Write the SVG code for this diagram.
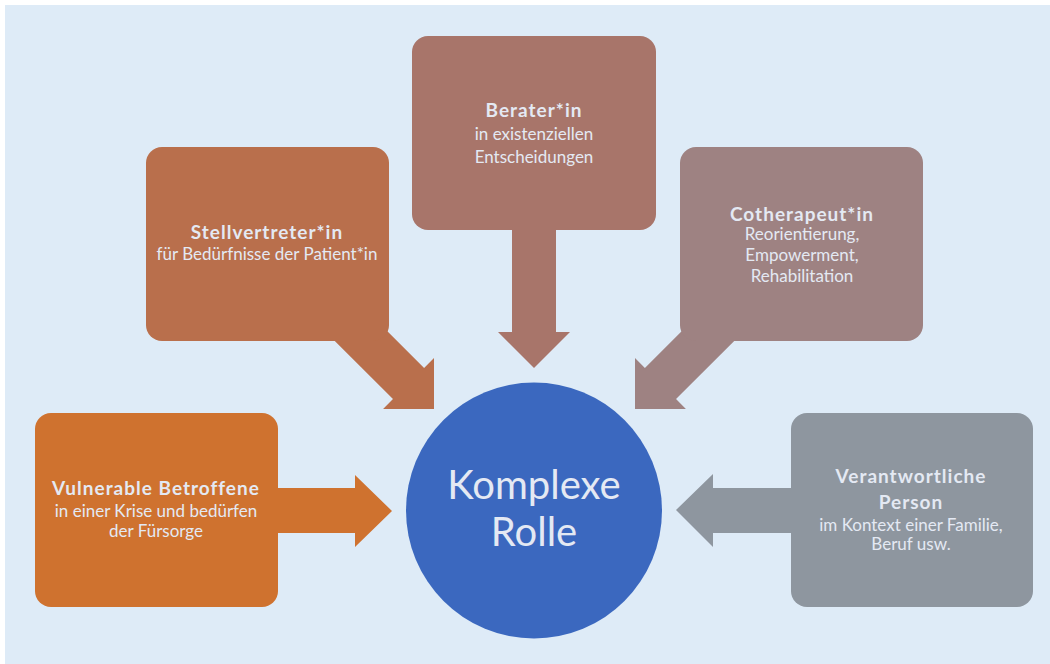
<svg xmlns="http://www.w3.org/2000/svg" width="1050" height="664" viewBox="0 0 1050 664">
<style>
.t{font-family:Lato,"Open Sans","Liberation Sans",sans-serif;fill:#E4E9F3;text-anchor:middle}
.b{font-weight:bold;font-size:19px;letter-spacing:1px}
.r{font-size:17px}
.big{font-size:40px}
</style>
<rect x="0" y="0" width="1050" height="664" fill="#FFFFFF"/>
<rect x="5" y="5" width="1045" height="659" fill="#DEEBF7"/>
<g id="connectors">
<polygon fill="#A8756A" points="512,200 556,200 556,332 570,332 534,368 498,332 512,332"/>
<polygon fill="#B96F4C" transform="translate(434,409) rotate(45)" points="-130,-22 -36,-22 -36,-36 0,0 -36,36 -36,22 -130,22"/>
<polygon fill="#9E8282" transform="translate(635,409) rotate(135)" points="-130,-22 -36,-22 -36,-36 0,0 -36,36 -36,22 -130,22"/>
<polygon fill="#CF722F" points="260,488 355,488 355,475 392,511 355,547 355,533 260,533"/>
<polygon fill="#8E969F" points="810,488 713,488 713,474 676,510 713,547 713,533 810,533"/>
</g>
<g id="berater">
<rect x="412" y="36" width="244" height="194" rx="16" fill="#A8756A"/>
<text class="t b" x="534" y="117">Berater*in</text>
<text class="t r" x="534" y="140">in existenziellen</text>
<text class="t r" x="534" y="163">Entscheidungen</text>
</g>
<g id="stellvertreter">
<rect x="146" y="147" width="243" height="194" rx="16" fill="#B96F4C"/>
<text class="t b" x="267" y="239">Stellvertreter*in</text>
<text class="t r" x="267" y="260">für Bedürfnisse der Patient*in</text>
</g>
<g id="cotherapeut">
<rect x="680" y="147" width="243" height="194" rx="16" fill="#9E8282"/>
<text class="t b" x="802" y="221">Cotherapeut*in</text>
<text class="t r" x="802" y="240">Reorientierung,</text>
<text class="t r" x="802" y="261">Empowerment,</text>
<text class="t r" x="802" y="282">Rehabilitation</text>
</g>
<g id="vulnerable">
<rect x="35" y="413" width="243" height="194" rx="16" fill="#CF722F"/>
<text class="t b" x="156" y="495">Vulnerable Betroffene</text>
<text class="t r" x="156" y="517">in einer Krise und bedürfen</text>
<text class="t r" x="156" y="537">der Fürsorge</text>
</g>
<g id="verantwortliche">
<rect x="791" y="413" width="242" height="194" rx="16" fill="#8E969F"/>
<text class="t b" x="911" y="483">Verantwortliche</text>
<text class="t b" x="911" y="509">Person</text>
<text class="t r" x="911" y="531">im Kontext einer Familie,</text>
<text class="t r" x="911" y="550">Beruf usw.</text>
</g>
<g id="komplexe-rolle">
<circle cx="534" cy="510.5" r="128" fill="#3B68BF"/>
<text class="t big" x="534" y="499">Komplexe</text>
<text class="t big" x="534" y="546">Rolle</text>
</g>
</svg>
